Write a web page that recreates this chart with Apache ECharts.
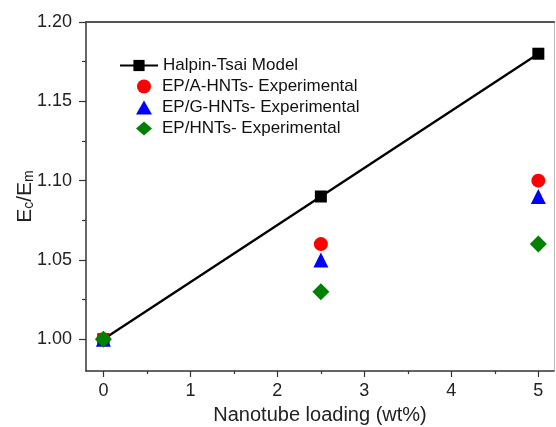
<!DOCTYPE html>
<html>
<head>
<meta charset="utf-8">
<script src="https://cdn.jsdelivr.net/npm/echarts@6/dist/echarts.min.js"></script>
<style>html,body{margin:0;padding:0;background:#fff}#c{width:556px;height:427px}</style>
</head>
<body>
<div id="c"></div>
<script>
var loading = [0, 2.5, 5];
var halpinTsai = [1.00, 1.09, 1.18];
var epAHNTs = [1.00, 1.06, 1.10];
var epGHNTs = [1.00, 1.05, 1.09];
var epHNTs = [1.00, 1.03, 1.06];
var xMajorTicks = [0, 1, 2, 3, 4, 5];
var xMinorTicks = [0.5, 1.5, 2.5, 3.5, 4.5];
var yMajorTicks = [1.00, 1.05, 1.10, 1.15, 1.20];
var yMinorTicks = [1.025, 1.075, 1.125, 1.175];
var seriesNames = ['Halpin-Tsai Model', 'EP/A-HNTs- Experimental', 'EP/G-HNTs- Experimental', 'EP/HNTs- Experimental'];

function pairs(ys) { return loading.map(function (x, i) { return [x, ys[i]]; }); }

var font = 'Liberation Sans, Arial, sans-serif';
var axisColor = '#333';
var chart = echarts.init(document.getElementById('c'), null, {renderer: 'canvas'});
var xMin = -0.2, xMax = 5.18, yMin = 0.98, yMax = 1.20;
var legendText = {fontFamily: font, fontSize: 17, color: '#111'};

chart.setOption({
  animation: false,
  backgroundColor: '#fff',
  grid: {left: 86, top: 22, right: 2, bottom: 56, containLabel: false, outerBoundsMode: 'none'},
  legend: [{
    left: 114, top: 52, orient: 'vertical', itemGap: 4, itemWidth: 38, itemHeight: 14,
    textStyle: legendText, data: [seriesNames[0]]
  }, {
    left: 131, top: 73, orient: 'vertical', itemGap: 4, itemWidth: 16, itemHeight: 14,
    textStyle: {fontFamily: font, fontSize: 17, color: '#111', padding: [0, 0, 0, 5]},
    data: seriesNames.slice(1)
  }],
  xAxis: [{
    type: 'value', min: xMin, max: xMax, position: 'bottom',
    axisLine: {show: true, onZero: false, lineStyle: {color: axisColor, width: 1.5}},
    axisTick: {show: true, inside: false, length: 6, customValues: xMajorTicks, lineStyle: {color: axisColor, width: 1.2}},
    axisLabel: {show: true, customValues: xMajorTicks, margin: 11, fontFamily: font, fontSize: 18, color: '#222'},
    splitLine: {show: false},
    name: 'Nanotube loading (wt%)', nameLocation: 'middle', nameGap: 34, nameMoveOverlap: false,
    nameTextStyle: {fontFamily: font, fontSize: 20, color: '#222'}
  }, {
    type: 'value', min: xMin, max: xMax, position: 'bottom',
    axisLine: {show: false, onZero: false},
    axisTick: {show: true, length: 3, customValues: xMinorTicks, lineStyle: {color: axisColor, width: 1.2}},
    axisLabel: {show: false}, splitLine: {show: false}
  }, {
    type: 'value', min: xMin, max: xMax, position: 'top',
    axisLine: {show: true, onZero: false, lineStyle: {color: '#555', width: 2}},
    axisTick: {show: false}, axisLabel: {show: false}, splitLine: {show: false}
  }],
  yAxis: [{
    type: 'value', min: yMin, max: yMax, position: 'left',
    axisLine: {show: true, onZero: false, lineStyle: {color: axisColor, width: 1.5}},
    axisTick: {show: true, inside: false, length: 7, customValues: yMajorTicks, lineStyle: {color: axisColor, width: 1.2}},
    axisLabel: {show: true, customValues: yMajorTicks, margin: 14, fontFamily: font, fontSize: 18, color: '#222',
      formatter: function (v) { return v.toFixed(2); }},
    splitLine: {show: false},
    name: '{a|E}{s|c}{a|/E}{s|m}', nameLocation: 'middle', nameGap: 50, nameRotate: 90, nameMoveOverlap: false,
    nameTextStyle: {fontFamily: font, fontSize: 20, color: '#222',
      rich: {a: {fontFamily: font, fontSize: 21, color: '#222'}, s: {fontFamily: font, fontSize: 14, color: '#222', verticalAlign: 'bottom', padding: [8, 0, 0, 0]}}}
  }, {
    type: 'value', min: yMin, max: yMax, position: 'left',
    axisLine: {show: false, onZero: false},
    axisTick: {show: true, length: 4, customValues: yMinorTicks, lineStyle: {color: axisColor, width: 1.2}},
    axisLabel: {show: false}, splitLine: {show: false}
  }, {
    type: 'value', min: yMin, max: yMax, position: 'right',
    axisLine: {show: true, onZero: false, lineStyle: {color: '#bbb', width: 1}},
    axisTick: {show: false}, axisLabel: {show: false}, splitLine: {show: false}
  }],
  series: [{
    name: seriesNames[0], type: 'line', data: pairs(halpinTsai),
    symbol: 'rect', symbolSize: 12, lineStyle: {color: '#000', width: 2.3},
    itemStyle: {color: '#000'}, z: 3
  }, {
    name: seriesNames[1], type: 'scatter', data: pairs(epAHNTs),
    symbol: 'circle', symbolSize: 14, itemStyle: {color: '#ff0000', opacity: 1}, z: 4
  }, {
    name: seriesNames[2], type: 'scatter', data: pairs(epGHNTs),
    symbol: 'triangle', symbolSize: 15, itemStyle: {color: '#0000ff', opacity: 1}, z: 5
  }, {
    name: seriesNames[3], type: 'scatter', data: pairs(epHNTs),
    symbol: 'diamond', symbolSize: 17, itemStyle: {color: '#008000', opacity: 1}, z: 6
  }]
});
</script>
</body>
</html>
